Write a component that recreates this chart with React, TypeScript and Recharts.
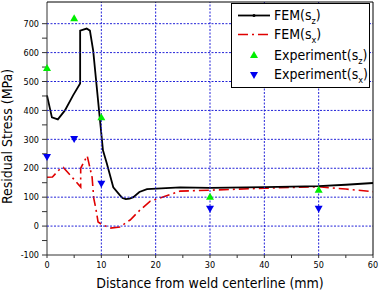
import {
  ComposedChart,
  Line,
  Scatter,
  XAxis,
  YAxis,
  Label,
} from 'recharts';

// FEM sigma_z (black solid)
const femSzX = [0, 0.9, 2, 3.3, 4.8, 6.1, 6.1, 7.3, 7.9, 8.5, 9.4, 10.3, 11, 12.2, 13.4, 13.9, 14.5, 15.2, 15.9, 17, 18.4, 24.5, 30, 40, 50, 55, 60];
const femSzY = [452, 376, 369, 400, 452, 493, 676, 683, 676, 607, 434, 262, 217, 134, 107, 97, 93, 95, 100, 118, 128, 134, 132, 135, 138, 143, 149];

// FEM sigma_x (red dash-dot)
const femSxX = [0, 1, 2.4, 3, 3.8, 4.8, 6.2, 6.2, 7.4, 8.3, 8.6, 9.0, 9.4, 9.9, 11.6, 13.4, 15.3, 17.1, 19, 21.2, 24.5, 30, 40, 50, 55, 60];
const femSxY = [169, 170, 198, 203, 186, 165, 135, 200, 243, 169, 97, 60, 14, 8, -7, -3, 21, 55, 86, 100, 121, 124, 131, 136, 128, 119];

// experiments
const expX = [0, 5, 10, 30, 50];
const expSz = [545, 717, 375, 100, 124];
const expSx = [241, 303, 148, 62, 62];

const xTicks = [0, 5, 10, 15, 20, 25, 30, 35, 40, 45, 50, 55, 60];
const yTicks = [-100, -50, 0, 50, 100, 150, 200, 250, 300, 350, 400, 450, 500, 550, 600, 650, 700];
const xGrid = [10, 20, 30, 40, 50];
const yGrid = [0, 100, 200, 300, 400, 500, 600, 700];
const xDomain = [0, 60];
const yDomain = [-100, 775];

const zip = (xs: number[], ys: number[]) => xs.map((x, i) => ({ x, y: ys[i] }));
const szData = zip(femSzX, femSzY);
const sxData = zip(femSxX, femSxY);
const expSzData = zip(expX, expSz);
const expSxData = zip(expX, expSx);

// grid lines and the plot frame, built from the grid/domain arrays
const hGrid = yGrid.map((v) => [{ x: xDomain[0], y: v }, { x: xDomain[1], y: v }]);
const vGrid = xGrid.map((v) => [{ x: v, y: yDomain[0] }, { x: v, y: yDomain[1] }]);
const frame = [
  { x: xDomain[0], y: yDomain[1] },
  { x: xDomain[1], y: yDomain[1] },
  { x: xDomain[1], y: yDomain[0] },
];

const FONT = "'DejaVu Sans Condensed', 'Liberation Sans', sans-serif";
const GRID = '#2323d8';

const NoMark = () => <g />;
const UpTri = (p: any) => (
  <path d={`M${p.cx},${p.cy - 4.5}L${p.cx + 4},${p.cy + 2.5}L${p.cx - 4},${p.cy + 2.5}Z`} fill="#00ee00" />
);
const DownTri = (p: any) => (
  <path d={`M${p.cx},${p.cy + 4.5}L${p.cx + 4},${p.cy - 2.5}L${p.cx - 4},${p.cy - 2.5}Z`} fill="#0000ee" />
);

const YTitle = ({ viewBox }: any) => {
  const x = viewBox.x + 12;
  const y = viewBox.y + viewBox.height / 2 + 8;
  return (
    <text x={x} y={y} transform={`rotate(-90, ${x}, ${y})`} textAnchor="middle" fontSize={14} fontFamily={FONT} fill="#000">
      Residual Stress (MPa)
    </text>
  );
};

const XTitle = ({ viewBox }: any) => (
  <text x={viewBox.x + viewBox.width / 2} y={viewBox.y + 33} textAnchor="middle" fontSize={14} fontFamily={FONT} fill="#000">
    Distance from weld centerline (mm)
  </text>
);

function LegendBox() {
  const row = (top: number, sample: any, name: string, sub: string) => (
    <div style={{ position: 'absolute', left: 0, top, height: 19, width: '100%' }}>
      <svg width={36} height={19} style={{ position: 'absolute', left: 4, top: 0 }}>
        {sample}
      </svg>
      <span style={{ position: 'absolute', left: 42, top: 1, whiteSpace: 'nowrap' }}>
        {name}(s<sub style={{ fontSize: 9, verticalAlign: '-4px' }}>{sub}</sub>)
      </span>
    </div>
  );
  return (
    <div
      style={{
        position: 'absolute', left: 231, top: 3, width: 139, height: 85,
        border: '1px solid #000', background: '#fff', boxSizing: 'border-box',
        fontFamily: FONT, fontSize: 14, lineHeight: '16px',
      }}
    >
      {row(2, <g><line x1={2} y1={9.5} x2={34} y2={9.5} stroke="#000" strokeWidth={1.8} /><circle cx={18} cy={9.5} r={1.5} fill="#000" /></g>, 'FEM', 'z')}
      {row(21, <line x1={2} y1={9.5} x2={34} y2={9.5} stroke="#e00000" strokeWidth={1.6} strokeDasharray="10 4 2 4" />, 'FEM', 'x')}
      {row(42, <path d="M18,5L22,12L14,12Z" fill="#00ee00" />, 'Experiment', 'z')}
      {row(61, <path d="M18,14L22,7L14,7Z" fill="#0000ee" />, 'Experiment', 'x')}
    </div>
  );
}

export default function App() {
  return (
    <div style={{ position: 'absolute', left: 0, top: 0, width: 380, height: 292 }}>
      <ComposedChart width={380} height={292} margin={{ top: 2, right: 7, bottom: 0, left: 0 }}>
        <XAxis
          dataKey="x"
          type="number"
          domain={xDomain}
          ticks={xTicks}
          tickFormatter={(v: number) => (v % 10 === 0 ? String(v) : '')}
          height={37}
          tickSize={3}
          tickMargin={4}
          axisLine={{ stroke: '#333' }}
          tickLine={{ stroke: '#333' }}
          tick={{ fontSize: 9, fill: '#000', fontFamily: FONT }}
        >
          <Label content={XTitle} />
        </XAxis>
        <YAxis
          dataKey="y"
          type="number"
          domain={yDomain}
          ticks={yTicks}
          tickFormatter={(v: number) => (v % 100 === 0 ? String(v) : '')}
          width={47}
          tickSize={5}
          tickMargin={3}
          axisLine={{ stroke: '#333' }}
          tickLine={{ stroke: '#333' }}
          tick={{ fontSize: 9, fill: '#000', fontFamily: FONT }}
        >
          <Label content={YTitle} />
        </YAxis>
        {hGrid.map((d, i) => (
          <Scatter key={`h${i}`} data={d} dataKey="y" fill={GRID} shape={NoMark} line={{ stroke: GRID, strokeWidth: 1, strokeDasharray: '2 1.5' }} isAnimationActive={false} />
        ))}
        {vGrid.map((d, i) => (
          <Scatter key={`v${i}`} data={d} dataKey="y" fill={GRID} shape={NoMark} line={{ stroke: GRID, strokeWidth: 1, strokeDasharray: '2 1.5' }} isAnimationActive={false} />
        ))}
        <Scatter data={frame} dataKey="y" fill="#000" shape={NoMark} line={{ stroke: '#000', strokeWidth: 1 }} isAnimationActive={false} />
        <Line data={sxData} dataKey="y" type="linear" stroke="#e00000" strokeWidth={1.6} strokeDasharray="10 4 2 4" dot={false} isAnimationActive={false} />
        <Line data={szData} dataKey="y" type="linear" stroke="#000" strokeWidth={1.8} dot={false} isAnimationActive={false} />
        <Scatter data={expSzData} dataKey="y" shape={UpTri} isAnimationActive={false} />
        <Scatter data={expSxData} dataKey="y" shape={DownTri} isAnimationActive={false} />
      </ComposedChart>
      <LegendBox />
    </div>
  );
}
